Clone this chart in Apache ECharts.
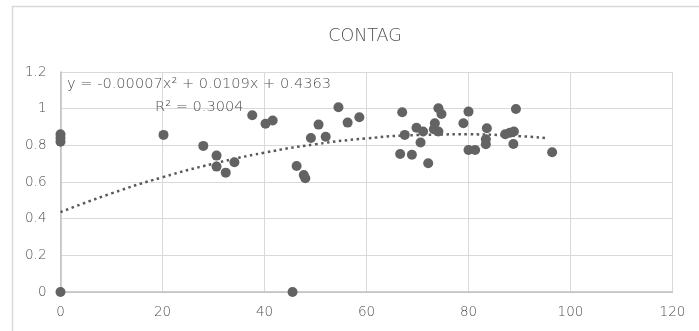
<!DOCTYPE html>
<html>
<head>
<meta charset="utf-8">
<script src="https://cdn.jsdelivr.net/npm/echarts@6/dist/echarts.min.js"></script>
<style>
html,body{margin:0;padding:0;background:#fff;}
#c{width:699px;height:331px;}
</style>
</head>
<body>
<div id="c"></div>
<script>
// Data
var contagX = [0, 0, 0, 0, 20.2, 28.0, 30.6, 30.6, 32.4, 34.1, 37.6, 40.2, 41.6, 45.5, 46.3, 47.7, 48.0, 49.1, 50.6, 52.0, 54.5, 56.3, 58.6,
  66.6, 67.0, 67.5, 68.9, 69.8, 70.6, 71.1, 72.1, 73.2, 73.4, 74.1, 74.1, 74.7, 79.0, 80.0, 80.0, 81.3, 83.4, 83.4, 83.6, 87.2, 88.1, 88.8, 88.9, 89.3, 96.4];
var contagY = [0, 0.86, 0.84, 0.82, 0.857, 0.797, 0.744, 0.684, 0.651, 0.708, 0.964, 0.918, 0.935, 0, 0.687, 0.638, 0.620, 0.840, 0.913, 0.847, 1.008, 0.924, 0.953,
  0.753, 0.980, 0.857, 0.749, 0.896, 0.815, 0.875, 0.702, 0.888, 0.920, 0.875, 1.002, 0.971, 0.920, 0.984, 0.775, 0.775, 0.833, 0.806, 0.893, 0.860, 0.869, 0.807, 0.875, 0.998, 0.762];
// Trendline points
var trendX = [0, 10, 20, 30, 40, 50, 60, 70, 80, 90, 95.5];
var trendY = [0.436, 0.538, 0.626, 0.700, 0.760, 0.806, 0.838, 0.856, 0.860, 0.850, 0.838];
var titleText = 'CONTAG';
var equationText = 'y = -0.00007x\u00B2 + 0.0109x + 0.4363';
var r2Text = 'R\u00B2 = 0.3004';

var pts = contagX.map(function (x, i) { return [x, contagY[i]]; });
var trend = trendX.map(function (x, i) { return [x, trendY[i]]; });

var FONT = '"DejaVu Sans", sans-serif';
var TXT = '#505050';

var chart = echarts.init(document.getElementById('c'), null, {renderer: 'canvas'});
chart.setOption({
  animation: false,
  backgroundColor: '#fff',
  title: {
    text: titleText, left: 360, top: 22, textAlign: 'center',
    textStyle: {fontFamily: FONT, fontSize: 17.5, fontWeight: 200, color: TXT}
  },
  grid: {left: 60.5, right: 26.5, top: 72, bottom: 39, containLabel: false},
  xAxis: {
    type: 'value', min: 0, max: 120, interval: 20,
    axisLine: {show: true, onZero: false, lineStyle: {color: '#bfbfbf', width: 1.5}},
    axisTick: {show: false},
    axisLabel: {fontFamily: FONT, fontSize: 13.5, fontWeight: 200, color: TXT, margin: 13},
    splitLine: {show: true, lineStyle: {color: '#d9d9d9', width: 1}}
  },
  yAxis: {
    type: 'value', min: 0, max: 1.2, interval: 0.2,
    axisLine: {show: true, lineStyle: {color: '#bfbfbf', width: 1.5}},
    axisTick: {show: false},
    axisLabel: {fontFamily: FONT, fontSize: 13.5, fontWeight: 200, color: TXT, margin: 14,
      formatter: function (v) { return String(Math.round(v * 10) / 10); }},
    splitLine: {show: true, lineStyle: {color: '#d9d9d9', width: 1}}
  },
  graphic: [
    {type: 'rect', shape: {x: 12.5, y: 6.5, width: 720, height: 340}, silent: true, z: -10,
      style: {fill: null, stroke: '#d9d9d9', lineWidth: 1.5}},
    {type: 'text', left: 67, top: 77, z: 10,
      style: {text: equationText, font: '200 14.6px ' + FONT, fill: TXT}},
    {type: 'text', left: 155, top: 100, z: 10,
      style: {text: r2Text, font: '200 14.6px ' + FONT, fill: TXT}}
  ],
  series: [
    {
      type: 'line', data: trend, smooth: true, symbol: 'none', z: 1,
      lineStyle: {color: '#595959', width: 2.5, type: [2.5, 3.5]}
    },
    {
      type: 'scatter', data: pts, symbol: 'circle', symbolSize: 10, z: 2,
      itemStyle: {color: '#636363', opacity: 1}
    }
  ]
});
</script>
</body>
</html>
